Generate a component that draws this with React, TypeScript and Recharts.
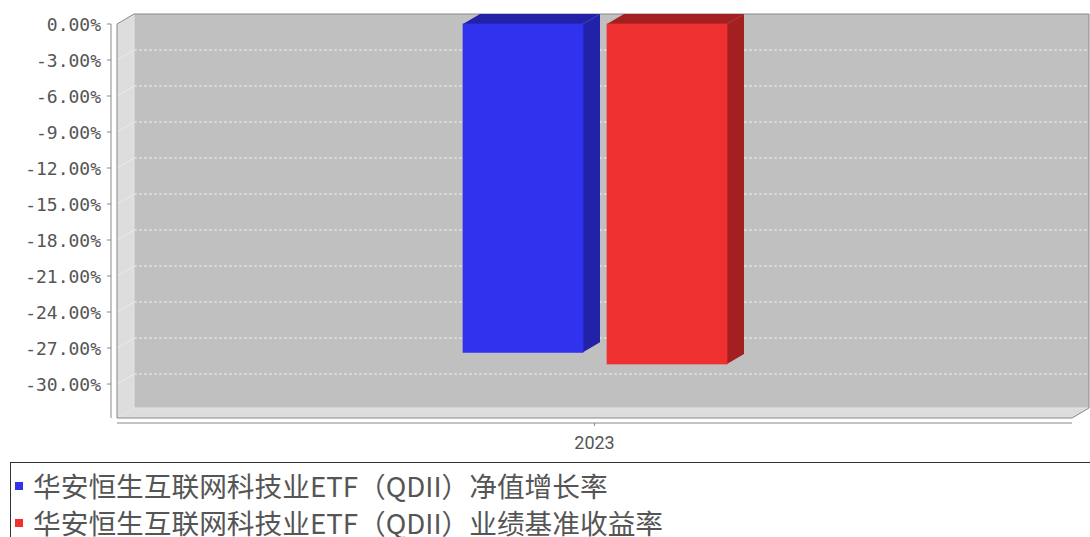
import React from "react";
import { BarChart, Bar, XAxis, YAxis, ReferenceArea, Legend } from "recharts";

const categories = ["2023"];
const navGrowth = [-27.36];
const benchmarkReturn = [-28.33];
const seriesNames = [
  "华安恒生互联网科技业ETF（QDII）净值增长率",
  "华安恒生互联网科技业ETF（QDII）业绩基准收益率",
];
const yTicks = [0, -3, -6, -9, -12, -15, -18, -21, -24, -27, -30];
const Y_MIN = -32.83;

const data = categories.map((year, i) => ({
  year,
  nav: navGrowth[i],
  bench: benchmarkReturn[i],
}));

// 3D depth offset (JFreeChart style)
const DX = 17;
const DY = 10;

const BLUE = "#3132EE";
const BLUE_DARK = "#2222A8";
const RED = "#EE3031";
const RED_DARK = "#A41F20";
const TEXT = "#555555";

function formatPct(v: number) {
  return v === 0 ? "0.00%" : `${v.toFixed(2)}%`;
}

// back wall, side wall, floor and the dashed grid on the back wall.
// The area covers the whole y domain, so tick rows are placed from its y/height.
function Walls(props: any) {
  const { x, y, width, height } = props;
  const bottom = y + height;
  const right = x + width;
  const rowY = (t: number) => y + (t / Y_MIN) * height;
  return (
    <g>
      <rect x={x + DX} y={y - DY} width={width} height={height} fill="#C0C0C0" />
      <polygon
        points={`${x},${y} ${x + DX},${y - DY} ${x + DX},${bottom - DY} ${x},${bottom}`}
        fill="#DDDDDD"
      />
      <polygon
        points={`${x},${bottom} ${x + DX},${bottom - DY} ${right + DX},${bottom - DY} ${right},${bottom}`}
        fill="#DDDDDD"
      />
      {yTicks
        .filter((t) => t !== 0)
        .map((t) => {
          const gy = rowY(t);
          return (
            <g key={t}>
              <line x1={x} y1={gy} x2={x + DX} y2={gy - DY} stroke="#EEEEEE" strokeWidth={0.8} />
              <line
                x1={x + DX}
                y1={gy - DY}
                x2={right + DX}
                y2={gy - DY}
                stroke="#EEEEEE"
                strokeDasharray="3 2"
              />
            </g>
          );
        })}
      <polyline
        points={`${x + DX},${bottom - DY} ${x + DX},${y - DY}`}
        stroke="#E4E4E4"
        fill="none"
      />
      <polyline
        points={`${x + DX},${bottom - DY} ${right + DX},${bottom - DY}`}
        stroke="#E4E4E4"
        fill="none"
      />
      <polyline
        points={`${x},${bottom} ${x},${y} ${x + DX},${y - DY} ${right + DX},${y - DY} ${right + DX},${bottom - DY} ${right},${bottom} ${x},${bottom}`}
        stroke="#888888"
        fill="none"
      />
      {/* axis lines sit a few px off the front of the box */}
      <line x1={x - 6} y1={y} x2={x - 6} y2={bottom} stroke="#888888" />
      <line x1={x} y1={bottom + 5} x2={right} y2={bottom + 5} stroke="#888888" />
    </g>
  );
}

function Bar3D(props: any) {
  const { x, y, width, height, fill, side } = props;
  if (x == null || y == null) return null;
  const top = Math.min(y, y + height);
  const h = Math.abs(height);
  const bottom = top + h;
  const right = x + width;
  return (
    <g>
      <polygon
        points={`${x},${top} ${x + DX},${top - DY} ${right + DX},${top - DY} ${right},${top}`}
        fill={side}
      />
      <polygon
        points={`${right},${top} ${right + DX},${top - DY} ${right + DX},${bottom - DY} ${right},${bottom}`}
        fill={side}
      />
      <rect x={x} y={top} width={width} height={h} fill={fill} stroke={fill} strokeOpacity={0.7} />
    </g>
  );
}

function YTick(props: any) {
  const { x, y, payload } = props;
  return (
    <g>
      <line x1={x - 10} y1={y} x2={x - 6} y2={y} stroke="#888888" />
      <text
        x={x - 16}
        y={y + 6.5}
        textAnchor="end"
        fill={TEXT}
        fontSize={18}
        fontFamily="DejaVu Sans Mono"
      >
        {formatPct(payload.value)}
      </text>
    </g>
  );
}

function XTick(props: any) {
  const { x, y, payload } = props;
  return (
    <g>
      <line x1={x} y1={y + 5} x2={x} y2={y + 8} stroke="#888888" />
      <text x={x} y={y + 31} textAnchor="middle" fill={TEXT} fontSize={18} fontFamily="Roboto">
        {payload.value}
      </text>
    </g>
  );
}

function LegendBox(props: any) {
  const entries = [...(props.payload || [])].sort(
    (a: any, b: any) => seriesNames.indexOf(a.value) - seriesNames.indexOf(b.value)
  );
  return (
    <div
      style={{
        width: 1100,
        height: 100,
        border: "1px solid #333333",
        boxSizing: "border-box",
        paddingTop: 4,
        background: "#FFFFFF",
      }}
    >
      {entries.map((entry: any, i: number) => (
        <div
          key={i}
          style={{
            display: "flex",
            alignItems: "center",
            height: 37,
            paddingLeft: 4,
          }}
        >
          <span
            style={{
              display: "inline-block",
              width: 8,
              height: 8,
              background: entry.color,
              marginRight: 10,
            }}
          />
          <span
            style={{
              fontFamily: "'Noto Sans CJK SC'",
              fontSize: 27.7,
              color: TEXT,
              whiteSpace: "nowrap",
              lineHeight: "37px",
            }}
          >
            {entry.value}
          </span>
        </div>
      ))}
    </div>
  );
}

export default function App() {
  return (
    <div
      style={{
        position: "absolute",
        left: 0,
        top: 0,
        width: 1090,
        height: 537,
        overflow: "hidden",
        background: "#FFFFFF",
      }}
    >
      <BarChart
        width={1090}
        height={537}
        data={data}
        margin={{ top: 24, right: 18, bottom: 89, left: 0 }}
        barSize={120}
        barGap={24}
      >
        <ReferenceArea y1={Y_MIN} y2={0} shape={<Walls />} ifOverflow="visible" />
        <XAxis
          dataKey="year"
          height={30}
          axisLine={false}
          tickLine={false}
          tickSize={0}
          tickMargin={0}
          tick={<XTick />}
        />
        <YAxis
          width={117}
          domain={[Y_MIN, 0]}
          ticks={yTicks}
          axisLine={false}
          tickLine={false}
          tickSize={0}
          tickMargin={0}
          tick={<YTick />}
        />
        <Legend
          layout="vertical"
          align="center"
          verticalAlign="middle"
          wrapperStyle={{ position: "absolute", left: 10, top: 462, width: 1100 }}
          content={<LegendBox />}
        />
        <Bar
          dataKey="nav"
          name={seriesNames[0]}
          fill={BLUE}
          isAnimationActive={false}
          shape={<Bar3D side={BLUE_DARK} />}
        />
        <Bar
          dataKey="bench"
          name={seriesNames[1]}
          fill={RED}
          isAnimationActive={false}
          shape={<Bar3D side={RED_DARK} />}
        />
      </BarChart>
    </div>
  );
}
